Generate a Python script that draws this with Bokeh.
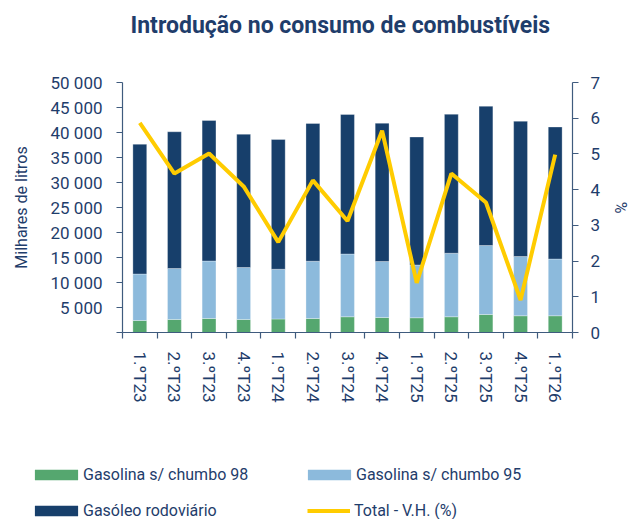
from bokeh.plotting import figure
from bokeh.layouts import column
from bokeh.models import Range1d, LinearAxis, FixedTicker, Legend, LegendItem
from bokeh.embed import file_html
from bokeh.resources import INLINE

# ---- data ----
quarters = ["1.ºT23", "2.ºT23", "3.ºT23", "4.ºT23", "1.ºT24", "2.ºT24", "3.ºT24",
            "4.ºT24", "1.ºT25", "2.ºT25", "3.ºT25", "4.ºT25", "1.ºT26"]
gas98 = [2400, 2600, 2800, 2600, 2700, 2800, 3150, 3000, 2950, 3150, 3600, 3350, 3350]
gas95 = [9300, 10200, 11500, 10400, 9950, 11450, 12550, 11200, 10550, 12700, 13800, 11850, 11350]
gasoleo = [25950, 27350, 28100, 26650, 25950, 27550, 27900, 27650, 25600, 27800, 27850, 27050, 26400]
vh = [5.87, 4.45, 5.01, 4.09, 2.53, 4.26, 3.12, 5.65, 1.39, 4.45, 3.64, 0.91, 4.98]
left_ticks = [0, 5000, 10000, 15000, 20000, 25000, 30000, 35000, 40000, 45000, 50000]
right_ticks = [0, 1, 2, 3, 4, 5, 6, 7]
series_labels = ["Gasolina s/ chumbo 98", "Gasolina s/ chumbo 95",
                 "Gasóleo rodoviário", "Total - V.H. (%)"]

# ---- style ----
TXT = "#1F3D6B"
AXC = "#3F5B7E"
C98 = "#55A76F"
C95 = "#8CBADC"
CGO = "#173F6B"
CVH = "#FFCC00"
FONT = "Roboto"

n = len(quarters)
xs = [i + 0.5 for i in range(n)]
source = dict(x=xs, g98=gas98, g95=gas95, go=gasoleo, vh=vh)

p = figure(width=633, height=440, output_backend="svg", toolbar_location=None,
           x_range=Range1d(0, n), y_range=Range1d(0, 50000),
           min_border_left=122, min_border_right=57, min_border_top=82,
           min_border_bottom=108)
p.frame_align = False
p.extra_y_ranges = {"pct": Range1d(0, 7)}
p.xgrid.visible = False
p.ygrid.visible = False
p.outline_line_color = None
p.background_fill_color = "white"

bars = p.vbar_stack(["g98", "g95", "go"], x="x", width=0.4, source=source,
                    fill_color=[C98, C95, CGO], line_color="white", line_alpha=0.5,
                    line_width=0.6)
ln = p.line("x", "vh", source=source, y_range_name="pct", line_color=CVH, line_width=4)

# title
p.title.text = "Introdução no consumo de combustíveis"
p.title.text_font = FONT
p.title.text_font_style = "bold"
p.title.text_font_size = "23px"
p.title.text_color = TXT
p.title.align = "left"
p.title.offset = 8
p.title.vertical_align = "top"
p.title.standoff = 16
p.title.padding = (0, 0, 0, 34)


def style_axis(ax):
    ax.axis_line_color = AXC
    ax.axis_line_width = 1.2
    ax.major_tick_line_color = AXC
    ax.major_tick_line_width = 1.2
    ax.minor_tick_line_color = None
    ax.major_tick_in = 0
    ax.major_tick_out = 6
    ax.major_label_text_font = FONT
    ax.major_label_text_font_size = "17px"
    ax.major_label_text_color = TXT
    ax.axis_label_text_font = FONT
    ax.axis_label_text_font_size = "16px"
    ax.axis_label_text_font_style = "normal"
    ax.axis_label_text_color = TXT


# left axis
yl = p.yaxis[0]
style_axis(yl)
yl.ticker = FixedTicker(ticks=left_ticks)
yl.major_label_overrides = {t: ("" if t == 0 else f"{t:,}".replace(",", " ")) for t in left_ticks}
yl.major_label_standoff = 14
yl.axis_label = "Milhares de litros"
yl.axis_label_standoff = 17

# right axis
yr = LinearAxis(y_range_name="pct", ticker=FixedTicker(ticks=right_ticks), axis_label="%")
style_axis(yr)
yr.major_label_standoff = 12
yr.axis_label_standoff = 8
p.add_layout(yr, "right")

# x axis
xa = p.xaxis[0]
style_axis(xa)
xa.ticker = FixedTicker(ticks=xs, minor_ticks=list(range(0, n + 1)))
xa.major_label_overrides = {x: q for x, q in zip(xs, quarters)}
xa.major_label_orientation = "vertical"
xa.major_tick_line_color = None
xa.major_tick_out = 0
xa.minor_tick_line_color = AXC
xa.minor_tick_line_width = 1.2
xa.minor_tick_in = 0
xa.minor_tick_out = 6
xa.major_label_standoff = 13

# ---- legend strip (separate figure below the chart) ----
lf = figure(width=633, height=79, output_backend="svg", toolbar_location=None,
            x_axis_location=None, y_axis_location=None, title_location=None,
            min_border=0, x_range=Range1d(0, 1), y_range=Range1d(0, 1))
lf.frame_align = False
lf.grid.visible = False
lf.outline_line_color = None
# key glyphs for the legend only (placed outside the visible range)
k98 = lf.vbar(x=[-5], top=[-5], width=0.4, fill_color=C98, line_color=None)
k95 = lf.vbar(x=[-5], top=[-5], width=0.4, fill_color=C95, line_color=None)
kgo = lf.vbar(x=[-5], top=[-5], width=0.4, fill_color=CGO, line_color=None)
kvh = lf.line(x=[-5, -6], y=[-5, -6], line_color=CVH, line_width=4)

leg_common = dict(label_text_font=FONT, label_text_font_size="16px",
                  label_text_color=TXT, background_fill_alpha=0,
                  border_line_color=None, padding=0, margin=0,
                  glyph_height=13, label_height=20, spacing=16)

legend = Legend(
    items=[LegendItem(label=series_labels[0], renderers=[k98]),
           LegendItem(label=series_labels[1], renderers=[k95]),
           LegendItem(label=series_labels[2], renderers=[kgo])],
    ncols=2, orientation="horizontal", location=(29, -1),
    glyph_width=54, label_standoff=0, label_width=203, **leg_common)
lf.add_layout(legend, "center")

legend2 = Legend(
    items=[LegendItem(label=series_labels[3], renderers=[kvh])],
    location=(307, -1), glyph_width=43, label_standoff=4, **leg_common)
lf.add_layout(legend2, "center")

layout = column(p, lf, spacing=0)
open("out.html", "w").write(file_html(layout, INLINE))
